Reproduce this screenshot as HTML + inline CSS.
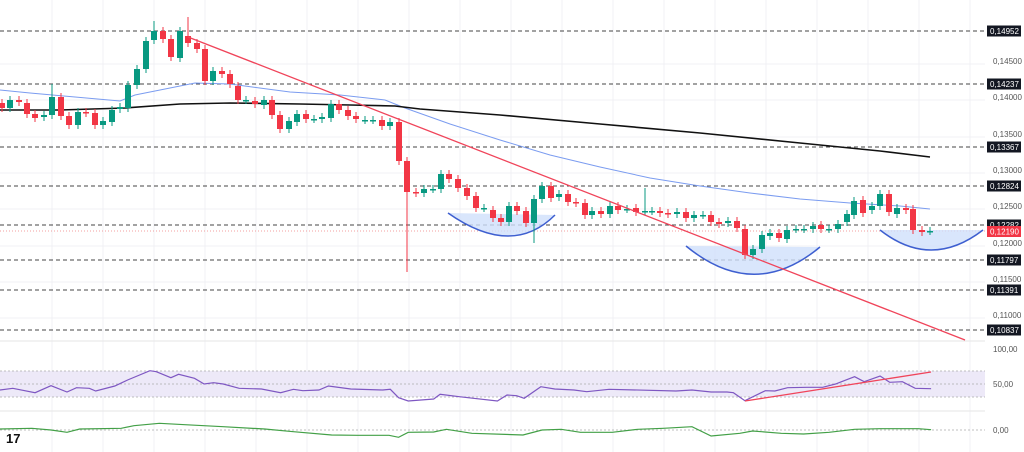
<!DOCTYPE html>
<html><head><meta charset="utf-8"><style>
html,body{margin:0;padding:0;background:#fff;}
svg{display:block;font-family:"Liberation Sans",sans-serif;}
</style></head><body>
<svg id="s" width="1024" height="452" viewBox="0 0 1024 452" xmlns="http://www.w3.org/2000/svg">
<rect width="1024" height="452" fill="#fff"/>
<g id="grid" stroke="#f0f1f4" stroke-width="1"></g>
<line x1="0" y1="341" x2="985" y2="341" stroke="#e6e6e6"/>
<line x1="0" y1="411" x2="985" y2="411" stroke="#e6e6e6"/>
<rect x="0" y="371" width="985" height="26" fill="#ede9f8"/>
<g stroke="#aaa" stroke-dasharray="2,2" stroke-width="0.8">
<line x1="0" y1="371" x2="985" y2="371"/><line x1="0" y1="384" x2="985" y2="384"/><line x1="0" y1="397" x2="985" y2="397"/><line x1="0" y1="430" x2="985" y2="430"/>
</g>
<g id="hl" stroke="#444" stroke-dasharray="4,3" stroke-width="1"></g>
<line x1="0" y1="231" x2="985" y2="231" stroke="#f08080" stroke-dasharray="1,2" stroke-width="0.8"/>
<path d="M448,213 Q512,258 555,215 Z" fill="#cfe0fb" opacity="0.8"/>
<path d="M448,213 Q512,258 555,215" fill="none" stroke="#3e5fd0" stroke-width="1.5"/>
<path d="M686,246 Q754,302 820,247 Z" fill="#cfe0fb" opacity="0.8"/>
<path d="M686,246 Q754,302 820,247" fill="none" stroke="#3e5fd0" stroke-width="1.5"/>
<path d="M880,230 Q931,270 983,230 Z" fill="#cfe0fb" opacity="0.8"/>
<path d="M880,230 Q931,270 983,230" fill="none" stroke="#3e5fd0" stroke-width="1.5"/>
<polyline fill="none" stroke="#7b9cf0" stroke-width="1" points="0,90 30,93 120,101 135,95 195,83 230,84 290,92 340,95 385,100 405,108 450,124 500,140 550,155 600,167 650,178 700,186 750,193 800,199 850,203 900,206 930,209"/>
<polyline fill="none" stroke="#111" stroke-width="1.6" points="0,110 60,110 125,108 180,104 230,103 300,104 350,105 395,106 420,109 500,115 600,124 700,133 800,143 880,151 930,157"/>
<g id="c"></g>
<line x1="188" y1="37" x2="965" y2="340" stroke="#f0445a" stroke-width="1.3"/>
<polyline id="rsi" fill="none" stroke="#7e57c2" stroke-width="1.2"/>
<line x1="745" y1="401" x2="931" y2="372" stroke="#f0445a" stroke-width="1.3"/>
<polyline id="mac" fill="none" stroke="#43a047" stroke-width="1.2"/>
<g id="lab" font-size="8"></g>
<text x="6" y="443" font-size="13" font-weight="bold" fill="#111">17</text>
</svg>
<script>
const NS="http://www.w3.org/2000/svg";
function el(p,t,a,txt){const e=document.createElementNS(NS,t);for(const k in a)e.setAttribute(k,a[k]);if(txt!==undefined)e.textContent=txt;document.getElementById(p).appendChild(e);return e;}
for(let x=52;x<985;x+=51)el("grid","line",{x1:x,y1:0,x2:x,y2:452});
[64,100,137,173,209,246,282,318].forEach(y=>el("grid","line",{x1:0,y1:y,x2:985,y2:y}));
const hl=[[31,"0,14952"],[84,"0,14237"],[147,"0,13367"],[186,"0,12824"],[225,"0,12282"],[260,"0,11797"],[290,"0,11391"],[330,"0,10837"]];
hl.forEach(([y,t])=>{el("hl","line",{x1:0,y1:y,x2:985,y2:y});el("lab","rect",{x:987,y:y-5.5,width:34,height:11,fill:"#131722"});el("lab","text",{x:990,y:y+3,fill:"#fff"},t);});
el("lab","rect",{x:987,y:226,width:34,height:11,fill:"#f23645"});el("lab","text",{x:990,y:234.5,fill:"#fff"},"0,12190");
[[64,"0,14500"],[100,"0,14000"],[137,"0,13500"],[173,"0,13000"],[209,"0,12500"],[246,"0,12000"],[282,"0,11500"],[318,"0,11000"],[352,"100,00"],[387,"50,00"],[433,"0,00"]].forEach(([y,t])=>el("lab","text",{x:993,y:y,fill:"#555"},t));
const C=[[2,103,108],[10,108,100],[19,100,102],[27,103,114],[35,114,118],[44,117,115],[52,115,97,84],[61,97,116],[69,116,125],[78,125,112],[86,112,113],[95,113,125],[103,125,121],[112,122,110],[120,109,107],[128,108,85],[137,85,69],[146,69,41],[154,40,31,21],[163,31,39],[171,39,57],[180,58,31],[188,36,43,17],[197,43,49],[205,49,81],[213,81,71],[222,71,74],[230,74,84],[238,86,100],[246,100,100],[255,101,104],[264,105,100],[272,100,115],[280,115,129],[289,129,121],[297,122,114],[306,114,119],[314,119,119],[322,119,117],[331,118,104],[339,104,110],[348,110,116],[356,116,119],[365,120,120],[373,120,120],[382,120,126],[390,126,122],[399,122,161],[407,161,192,null,272],[416,192,193],[424,193,189],[433,189,189],[441,189,174],[449,174,179],[458,179,188],[467,188,196],[476,196,208],[484,208,208],[493,210,218],[501,218,222],[509,222,206],[517,206,211],[526,211,223],[534,223,199,null,243],[542,199,186],[551,186,198],[559,197,194],[568,194,202],[576,202,203],[585,203,215],[592,215,211],[601,211,214],[610,214,206],[618,206,210],[627,209,209],[636,208,212],[645,211,211,188],[652,211,211],[660,211,213],[668,213,214],[677,214,212],[686,212,218],[694,218,215],[703,215,215],[711,215,222],[719,222,224],[728,223,221],[737,221,228],[745,229,255],[753,255,249],[762,249,235],[770,236,233],[779,233,238],[787,239,230],[796,229,229],[804,229,229],[813,229,226],[821,225,229],[829,229,229],[838,229,224],[847,222,214],[854,215,201],[863,200,213],[872,210,206],[880,206,194],[889,194,212],[897,214,208],[906,208,210],[913,209,230],[922,230,232],[930,231,231]];
C.forEach(([x,o,c,h,l])=>{const up=c<=o&&o!==c?true:(o===c?null:false);const col=up===false?"#f23645":"#089981";const t=Math.min(o,c),b=Math.max(o,c);
el("c","line",{x1:x,y1:h||t-4,x2:x,y2:l||b+4,stroke:col,"stroke-width":1});
el("c","rect",{x:x-3,y:t,width:6,height:Math.max(1.5,b-t),fill:col});});
const R=[[0,180],[20,175],[55,188],[80,167],[105,186],[120,173],[140,175],[150,183],[180,168],[200,150],[235,122],[245,125],[268,143],[280,133],[305,145],[320,162],[335,158],[350,162],[375,175],[410,177],[440,188],[460,178],[475,182],[500,180],[515,168],[550,177],[600,180],[612,178],[625,203],[640,213],[680,207],[690,193],[720,200],[780,213],[795,195],[810,197],[822,205],[848,170],[870,177],[900,180],[920,185],[955,178],[1060,183],[1085,180],[1115,186],[1140,186],[1150,188],[1168,212],[1200,182],[1215,183],[1235,173],[1265,172],[1290,172],[1310,162],[1340,140],[1355,155],[1380,138],[1395,157],[1415,155],[1435,175],[1460,176]];
document.getElementById("rsi").setAttribute("points",R.map(([a,b])=>(a/1.568).toFixed(1)+","+(330+b/3).toFixed(1)).join(" "));
const M=[[0,297],[50,295],[80,300],[105,307],[125,297],[190,295],[210,287],[250,280],[290,284],[350,290],[415,297],[460,305],[520,315],[560,316],[610,316],[625,322],[640,307],[680,306],[700,298],[740,310],[820,315],[850,300],[880,298],[910,307],[960,307],[1000,298],[1040,295],[1085,290],[1115,318],[1160,310],[1180,303],[1225,310],[1260,312],[1300,307],[1340,298],[1380,296],[1440,296],[1460,299]];
document.getElementById("mac").setAttribute("points",M.map(([a,b])=>(a/1.568).toFixed(1)+","+(330+b/3).toFixed(1)).join(" "));
</script>
</body></html>
